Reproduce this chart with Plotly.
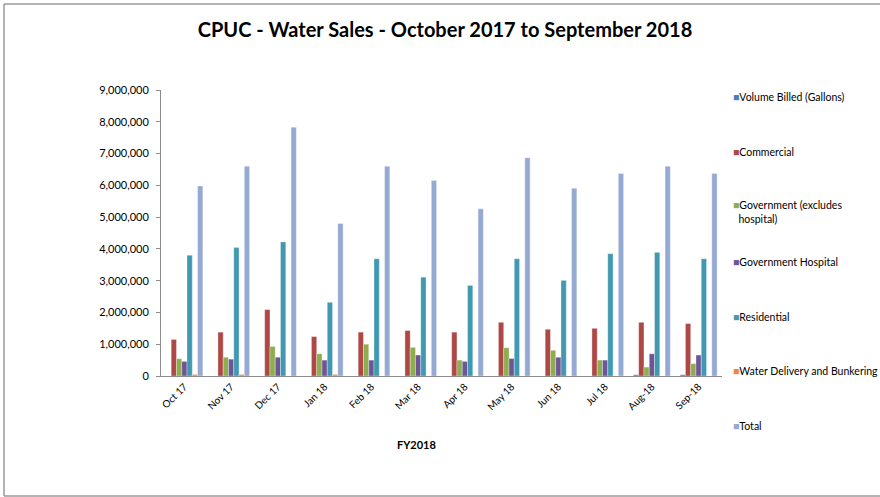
import plotly.graph_objects as go

months = ["Oct 17", "Nov 17", "Dec 17", "Jan 18", "Feb 18", "Mar 18",
          "Apr 18", "May 18", "Jun 18", "Jul 18", "Aug-18", "Sep-18"]

volume_billed = [0, 0, 0, 0, 0, 0, 0, 0, 0, 0, 40000, 40000]
commercial = [1150000, 1380000, 2090000, 1240000, 1380000, 1430000,
              1380000, 1690000, 1470000, 1500000, 1690000, 1650000]
government = [545000, 590000, 930000, 700000, 1000000, 900000,
              500000, 890000, 810000, 500000, 280000, 390000]
gov_hospital = [460000, 530000, 590000, 500000, 500000, 660000,
                460000, 550000, 590000, 500000, 700000, 660000]
residential = [3800000, 4040000, 4220000, 2320000, 3690000, 3110000,
               2850000, 3690000, 3010000, 3850000, 3890000, 3690000]
water_delivery = [50000, 50000, 0, 50000, 0, 0, 0, 0, 0, 0, 0, 0]
total = [5980000, 6600000, 7830000, 4800000, 6600000, 6150000,
         5260000, 6870000, 5910000, 6370000, 6600000, 6370000]

series_names = ["Volume Billed (Gallons)", "Commercial",
                "Government (excludes<br>\u00a0\u00a0hospital)",
                "Government Hospital", "Residential",
                "Water Delivery and Bunkering", "Total"]
series_values = [volume_billed, commercial, government, gov_hospital,
                 residential, water_delivery, total]
series_colors = ["#4A7EBB", "#AE4845", "#8DAD4F", "#6E5696",
                 "#4199B1", "#F0883C", "#95AAD2"]

FONT = "Lato, 'Open Sans', sans-serif"
W, H = 880, 497
L, R, T, B = 161, 158, 90, 121
pw, ph = W - L - R, H - T - B


def px_x(x):
    return (x - L) / pw


def px_y(y):
    return (H - B - y) / ph


legend_y = [97, 152, 212, 262, 317, 371, 426]

fig = go.Figure()
layout_legends = {}
for i, (name, vals, color) in enumerate(zip(series_names, series_values, series_colors)):
    lg = "legend" if i == 0 else f"legend{i+1}"
    fig.add_trace(go.Bar(
        x=months, y=vals, name=name.replace("<br>\u00a0\u00a0", " "),
        marker_color=color,
        marker_line=dict(color="rgba(255,255,255,0.55)", width=0.6),
        showlegend=False,
    ))
    fig.add_trace(go.Scatter(
        x=[None], y=[None], mode="none",
        name=f"<span style='color:{color}'>\u25a0</span>{name}",
        legend=lg, showlegend=True,
    ))
    layout_legends[lg] = dict(
        x=px_x(693), y=px_y(legend_y[i]), xanchor="left", yanchor="middle",
        font=dict(family=FONT, size=10.5, color="#000000"),
        bgcolor="rgba(0,0,0,0)", itemwidth=30,
    )

border = dict(color="#9a9a9a", width=1.5)
fig.update_layout(
    width=W, height=H,
    margin=dict(l=L, r=R, t=T, b=B, autoexpand=False),
    paper_bgcolor="white", plot_bgcolor="white",
    barmode="group", bargap=0.21, bargroupgap=0,
    font=dict(family=FONT, size=10, color="#000000"),
    title=dict(text="<b>CPUC - Water Sales - October 2017 to September 2018</b>",
               x=445 / W, xanchor="center", y=1 - 30 / H, yanchor="middle",
               font=dict(family=FONT, size=20, color="#000000")),
    xaxis=dict(showline=True, linecolor="#8c8c8c", linewidth=1,
               tickangle=-45, ticks="", showgrid=False, automargin=False,
               tickfont=dict(family=FONT, size=10, color="#000000")),
    yaxis=dict(range=[0, 9000000], dtick=1000000, tickformat=",",
               showline=True, linecolor="#8c8c8c", linewidth=1,
               ticks="outside", ticklen=4, tickcolor="#8c8c8c",
               ticklabelstandoff=5, automargin=False,
               showgrid=False, zeroline=False,
               tickfont=dict(family=FONT, size=11, color="#000000")),
    annotations=[dict(text="<b>FY2018</b>", xref="paper", yref="paper",
                      x=px_x(416), y=px_y(453), showarrow=False,
                      font=dict(family=FONT, size=11, color="#000000"))],
    shapes=[
        dict(type="line", xref="paper", yref="paper",
             x0=px_x(4), x1=px_x(4), y0=px_y(496), y1=px_y(4), line=border),
        dict(type="line", xref="paper", yref="paper",
             x0=px_x(4), x1=px_x(880), y0=px_y(4), y1=px_y(4), line=border),
        dict(type="line", xref="paper", yref="paper",
             x0=px_x(4), x1=px_x(880), y0=px_y(496), y1=px_y(496), line=border),
    ],
    **layout_legends,
)

fig.write_html("out.html", config={"displayModeBar": False},
               post_script="document.body.style.margin='0';document.body.style.overflow='hidden';")
